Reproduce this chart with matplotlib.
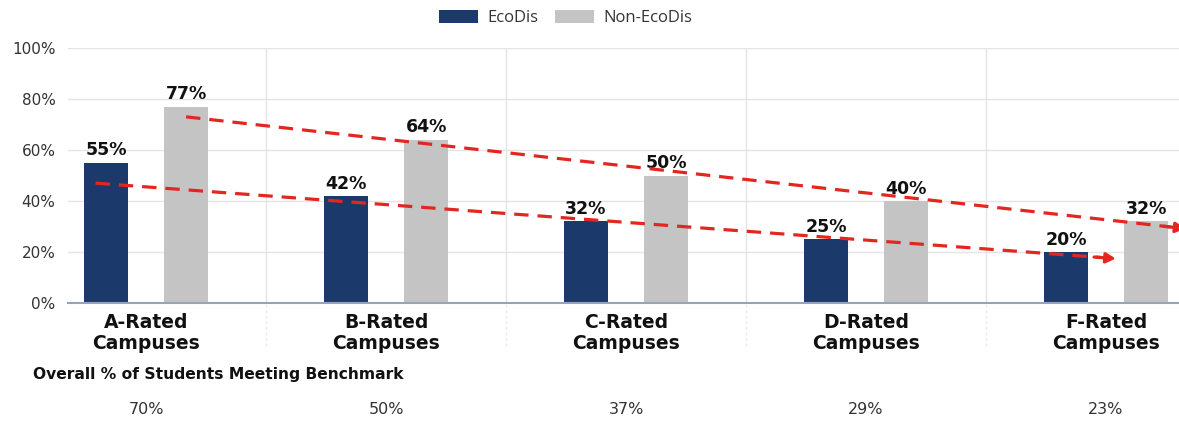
import matplotlib
matplotlib.use("Agg")
import matplotlib.pyplot as plt
import matplotlib.transforms as mtransforms
import numpy as np

# ---- data ----
categories = ["A-Rated\nCampuses", "B-Rated\nCampuses", "C-Rated\nCampuses",
              "D-Rated\nCampuses", "F-Rated\nCampuses"]
ecodis = [55, 42, 32, 25, 20]
non_ecodis = [77, 64, 50, 40, 32]
overall = [70, 50, 37, 29, 23]
overall_title = "Overall % of Students Meeting Benchmark"
series_names = ["EcoDis", "Non-EcoDis"]
yticks = [0, 20, 40, 60, 80, 100]
# trend arrows (x in category units, y in %)
trend_eco_x = [-0.21, 4.04]
trend_eco_y = [47, 17.4]
trend_non_x = [0.167, 4.33]
trend_non_y = [73, 29.2]

NAVY = "#1b3a6b"
GRAY = "#c4c4c4"
RED = "#e3261f"

fig = plt.figure(figsize=(11.79, 4.21), dpi=100)
ax = fig.add_axes([68/1179, 118/421, (1179-68)/1179, 255/421])

x = np.arange(len(categories))
off = 0.167
w = 0.183
b1 = ax.bar(x - off, ecodis, width=w, color=NAVY, label=series_names[0], zorder=3)
b2 = ax.bar(x + off, non_ecodis, width=w, color=GRAY, label=series_names[1], zorder=3)

for xs, vals in ((x - off, ecodis), (x + off, non_ecodis)):
    for xi, v in zip(xs, vals):
        ax.text(xi, v + 1.3, f"{v}%", ha="center", va="bottom", fontsize=12.5,
                fontweight="bold", color="#111111", zorder=5, family="DejaVu Sans")

ax.set_xlim(-0.325, 4.304)
ax.set_ylim(0, 100)
ax.set_yticks(yticks)
ax.set_yticklabels([f"{t}%" for t in yticks], fontsize=11, color="#333333",
                   family="DejaVu Sans")
ax.tick_params(axis="y", length=0, pad=9)
ax.set_xticks(x)
ax.set_xticklabels(categories, fontsize=13.5, fontweight="bold", color="#111111",
                   family="DejaVu Sans", linespacing=1.15)
ax.tick_params(axis="x", length=0, pad=7)

for s in ["top", "right", "left"]:
    ax.spines[s].set_visible(False)
ax.spines["bottom"].set_color("#9aa3b5")
ax.spines["bottom"].set_linewidth(1.5)
ax.spines["bottom"].set_zorder(4)

ax.grid(axis="y", color="#e4e4e4", linewidth=1, zorder=0)
for b in np.arange(len(categories) - 1) + 0.5:
    ax.plot([b, b], [0, 100], color="#e4e4e4", linewidth=1, zorder=0)
    ax.plot([b, b], [-17, 0], color="#e8e8e8", linewidth=1, zorder=0,
            linestyle=(0, (2, 2)), clip_on=False)

# trend lines
dash = (0, (4.5, 2.8))
ax.plot(trend_eco_x[:1] + [trend_eco_x[1] - 0.06], [trend_eco_y[0], trend_eco_y[1] + 0.45],
        color=RED, lw=2.3, linestyle=dash, zorder=6)
ax.annotate("", xy=(trend_eco_x[1], trend_eco_y[1]),
            xytext=(trend_eco_x[1] - 0.09, trend_eco_y[1] + 0.62),
            arrowprops=dict(arrowstyle="-|>,head_length=0.55,head_width=0.3",
                            color=RED, lw=2.3, shrinkA=0, shrinkB=0), zorder=6)
ax.plot(trend_non_x[:1] + [trend_non_x[1] - 0.06], [trend_non_y[0], trend_non_y[1] + 0.6],
        color=RED, lw=2.3, linestyle=dash, zorder=6, clip_on=False)
ax.annotate("", xy=(trend_non_x[1], trend_non_y[1]),
            xytext=(trend_non_x[1] - 0.09, trend_non_y[1] + 0.9),
            arrowprops=dict(arrowstyle="-|>,head_length=0.55,head_width=0.3",
                            color=RED, lw=2.3, shrinkA=0, shrinkB=0),
            zorder=6, annotation_clip=False)

# legend
leg = fig.legend(handles=[b1, b2], labels=series_names, loc="center",
                 bbox_to_anchor=(0.48, 0.957), ncol=2, frameon=False,
                 handlelength=2.3, handleheight=0.85, columnspacing=1.0,
                 handletextpad=0.6, prop={"family": "Open Sans", "size": 12})
for t in leg.get_texts():
    t.set_color("#333333")

# bottom overall row
fig.text(33/1179, (421-375)/421, overall_title, fontsize=11.2, fontweight="bold",
         color="#111111", ha="left", va="center", family="DejaVu Sans")
trans = mtransforms.blended_transform_factory(ax.transData, fig.transFigure)
for xi, v in zip(x, overall):
    fig.text(xi, (421-410)/421, f"{v}%", transform=trans, ha="center", va="center",
             fontsize=11.5, color="#333333", family="DejaVu Sans")

fig.savefig("out.png", dpi=100)
